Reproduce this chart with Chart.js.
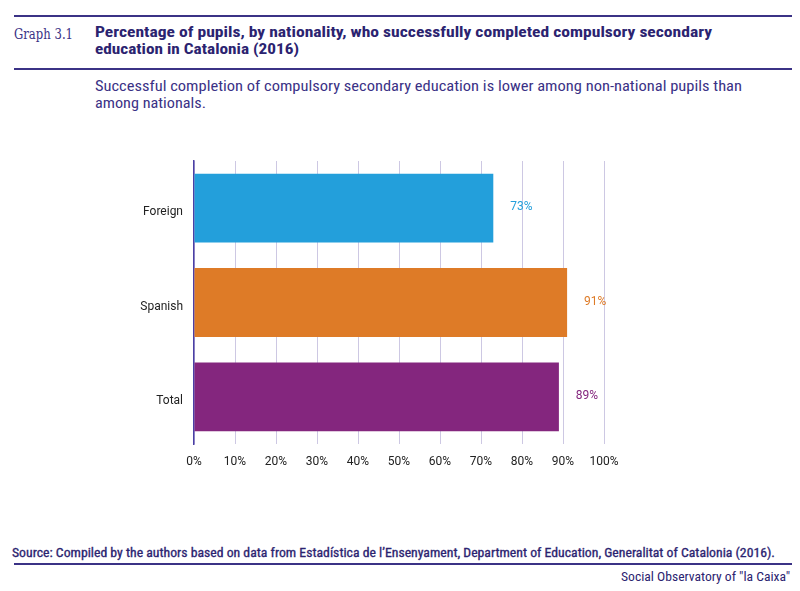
<!DOCTYPE html>
<html><head><meta charset="utf-8">
<script src="https://cdn.jsdelivr.net/npm/chart.js@4.4.1/dist/chart.umd.min.js"></script>
<style>
body{margin:0;width:800px;height:591px;background:#fff;position:relative;overflow:hidden;font-family:Roboto,"Liberation Sans",sans-serif}
.t{position:absolute;white-space:nowrap;line-height:1;transform-origin:0 50%}
.rule{position:absolute;left:14px;width:778px;height:2px;background:#3b3286}
.cond{font-family:"Liberation Sans Narrow","Roboto Condensed",Roboto,sans-serif}
canvas{position:absolute;left:0;top:0}
</style></head><body>
<div class="rule" style="top:15px"></div>
<div class="rule" style="top:68px"></div>
<div class="rule" style="top:563px"></div>
<div class="t" data-w="59" style="left:14px;top:27px;font-family:'DejaVu Serif','Liberation Serif',serif;font-size:14px;color:#3b3286">Graph 3.1</div>
<div class="t cond" data-w="617" style="left:95px;top:25px;font-size:15px;font-weight:bold;color:#2b2370">Percentage of pupils, by nationality, who successfully completed compulsory secondary</div>
<div class="t cond" data-w="204" style="left:95px;top:42px;font-size:15px;font-weight:bold;color:#2b2370">education in Catalonia (2016)</div>
<div class="t cond" data-w="647" style="left:95px;top:79px;font-size:14px;color:#3b3286">Successful completion of compulsory secondary education is lower among non-national pupils than</div>
<div class="t cond" data-w="111" style="left:95px;top:96px;font-size:14px;color:#3b3286">among nationals.</div>
<div class="t cond" data-w="763" style="left:12px;top:547px;font-size:12.5px;color:#2b2370;-webkit-text-stroke:0.3px #2b2370">Source: Compiled by the authors based on data from Estadística de l’Ensenyament, Department of Education, Generalitat of Catalonia (2016).</div>
<div class="t cond" data-w="169" style="left:621px;top:571px;font-size:12.5px;color:#2b2370">Social Observatory of "la Caixa"</div>
<canvas id="c" width="800" height="591"></canvas>
<script>
const categories = ['Foreign', 'Spanish', 'Total'];
const values = [73, 91, 89];
const barColors = ['#239fdb', '#de7b27', '#84267e'];
const xTickStep = 10;
const xMin = 0, xMax = 100;

document.querySelectorAll('[data-w]').forEach(el => {
  const w = el.getBoundingClientRect().width;
  el.style.transform = 'scaleX(' + (el.dataset.w / w) + ')';
});

const valueLabels = {
  id: 'valueLabels',
  afterDatasetsDraw(chart) {
    const ctx = chart.ctx;
    const meta = chart.getDatasetMeta(0);
    ctx.save();
    ctx.font = '12px Roboto, "Liberation Sans", sans-serif';
    ctx.textAlign = 'center';
    ctx.textBaseline = 'middle';
    meta.data.forEach((el, i) => {
      ctx.fillStyle = barColors[i];
      ctx.fillText(values[i] + '%', el.x + 28, el.y - 1);
    });
    ctx.restore();
  }
};

new Chart(document.getElementById('c'), {
  type: 'bar',
  data: {
    labels: categories,
    datasets: [{
      data: values,
      backgroundColor: barColors,
      barPercentage: 0.73,
      categoryPercentage: 1
    }]
  },
  options: {
    indexAxis: 'y',
    responsive: false,
    animation: false,
    layout: { padding: { left: 0, right: 196, top: 161, bottom: 117 } },
    plugins: { legend: { display: false }, tooltip: { enabled: false } },
    scales: {
      x: {
        min: xMin, max: xMax,
        ticks: { stepSize: xTickStep, callback: v => v + '%', color: '#222', padding: 11,
                 font: { family: 'Roboto, "Liberation Sans", sans-serif', size: 12 } },
        grid: { color: '#cdc8e3', drawTicks: false, lineWidth: 1 },
        border: { display: false },
        afterFit: s => { s.height = 30; }
      },
      y: {
        ticks: { color: '#222', padding: 11, labelOffset: 4,
                 font: { family: 'Roboto, "Liberation Sans", sans-serif', size: 12 } },
        grid: { color: 'rgba(0,0,0,0)', drawTicks: false },
        border: { display: true, color: '#4b3fa5', width: 1.5 },
        afterFit: s => { s.width = 194; }
      }
    }
  },
  plugins: [valueLabels]
});
</script>
</body></html>
